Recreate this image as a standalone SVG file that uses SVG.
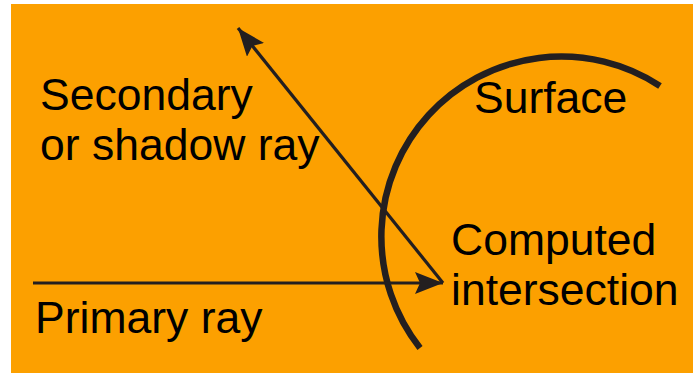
<svg xmlns="http://www.w3.org/2000/svg" width="693" height="373" viewBox="0 0 693 373">
<style>
.lbl{font-family:"Liberation Sans",Arial,sans-serif;font-size:44.5px;fill:#000}
.ray{stroke:#231f20;stroke-width:3.2;fill:none}
</style>
<defs>
<marker id="ah" markerUnits="userSpaceOnUse" markerWidth="30" markerHeight="24" refX="28" refY="11" orient="auto">
<path d="M0,0 L28,11 L0,22 L5,11 Z" fill="#231f20"/>
</marker>
</defs>
<rect x="0" y="0" width="693" height="373" fill="#fff"/>
<rect x="11" y="4" width="682" height="369" fill="#fca000"/>
<g id="surface">
<path d="M420,348 A180,180 0 0 1 660,86" fill="none" stroke="#231f20" stroke-width="6.5"/>
<text class="lbl" x="474" y="113">Surface</text>
</g>
<g id="connectors">
<line class="ray" x1="33" y1="283" x2="443" y2="283" marker-end="url(#ah)"/>
<line class="ray" x1="443" y1="283" x2="238" y2="28" marker-end="url(#ah)"/>
</g>
<g id="secondary">
<text class="lbl" x="40" y="110">Secondary</text>
<text class="lbl" x="40" y="160">or shadow ray</text>
</g>
<g id="primary">
<text class="lbl" x="35" y="333">Primary ray</text>
</g>
<g id="intersection">
<text class="lbl" x="451" y="255">Computed</text>
<text class="lbl" x="451" y="305">intersection</text>
</g>
</svg>
